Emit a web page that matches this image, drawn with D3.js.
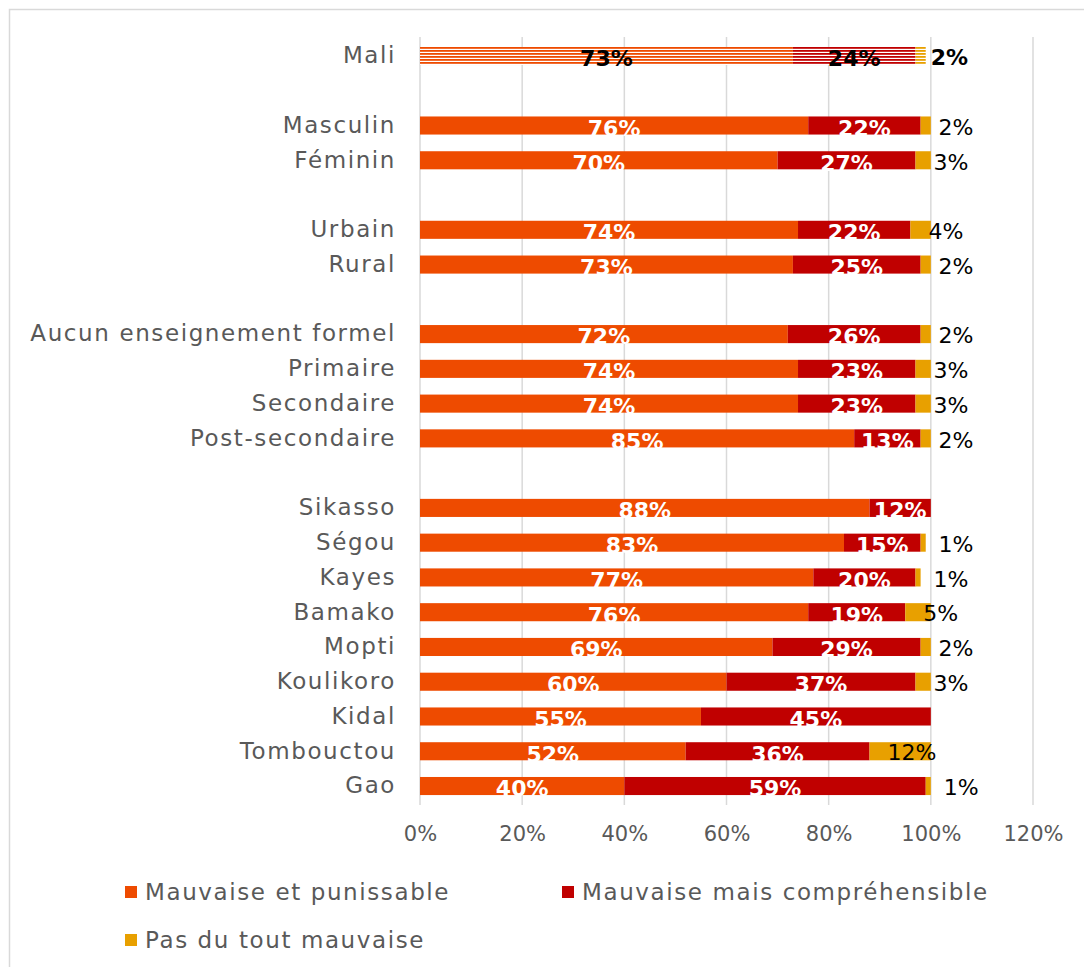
<!DOCTYPE html>
<html>
<head>
<meta charset="utf-8">
<script src="https://cdn.jsdelivr.net/npm/d3@7/dist/d3.min.js"></script>
<style>
  html, body { margin: 0; padding: 0; background: #fff; }
  svg { display: block; }
</style>
</head>
<body>
<script>
// Attitude towards the act, by sub-group (shares of respondents)
const categories = [
  "Mali", "",
  "Masculin", "Féminin", " ",
  "Urbain", "Rural", "  ",
  "Aucun enseignement formel", "Primaire", "Secondaire", "Post-secondaire", "   ",
  "Sikasso", "Ségou", "Kayes", "Bamako", "Mopti", "Koulikoro", "Kidal", "Tombouctou", "Gao"
];
const punissable = [73, null, 76, 70, null, 74, 73, null, 72, 74, 74, 85, null, 88, 83, 77, 76, 69, 60, 55, 52, 40];
const comprehensible = [24, null, 22, 27, null, 22, 25, null, 26, 23, 23, 13, null, 12, 15, 20, 19, 29, 37, 45, 36, 59];
const pasMauvaise = [2, null, 2, 3, null, 4, 2, null, 2, 3, 3, 2, null, 0, 1, 1, 5, 2, 3, 0, 12, 1];
const seriesNames = ["Mauvaise et punissable", "Mauvaise mais compréhensible", "Pas du tout mauvaise"];
const tickValues = [0, 20, 40, 60, 80, 100, 120];

const colors = ["#EE4B00", "#C00000", "#E8A000"];
const W = 1084, H = 967;
const font = "DejaVu Sans, sans-serif";

const svg = d3.select("body").append("svg").attr("width", W).attr("height", H);

// chart frame
svg.append("rect").attr("x", 9.5).attr("y", 9.5).attr("width", W + 20).attr("height", H + 20)
  .attr("fill", "#fff").attr("stroke", "#d9d9d9").attr("stroke-width", 1.5);

// striped fills for the national total row
const defs = svg.append("defs");
colors.forEach((c, i) => {
  const p = defs.append("pattern").attr("id", "stripe" + i)
    .attr("patternUnits", "userSpaceOnUse").attr("width", 8).attr("height", 3)
    .attr("y", 47);
  p.append("rect").attr("width", 8).attr("height", 3).attr("fill", "#fff");
  p.append("rect").attr("width", 8).attr("height", 1.8).attr("fill", c);
});

const x = d3.scaleLinear().domain([0, 120]).range([420, 1033]);
const y = d3.scaleBand().domain(categories).range([38.6, 803.4]).paddingInner(0.48).paddingOuter(0.24);

// vertical gridlines
svg.append("g").selectAll("line").data(tickValues).join("line")
  .attr("x1", d => x(d)).attr("x2", d => x(d))
  .attr("y1", 37).attr("y2", 805)
  .attr("stroke", "#d9d9d9").attr("stroke-width", 1.5);

// x axis tick labels
const xAxis = d3.axisBottom(x).tickValues(tickValues).tickFormat(d => d + "%").tickSize(0).tickPadding(0);
const gx = svg.append("g").attr("transform", "translate(0,826)").call(xAxis);
gx.select(".domain").remove();
gx.selectAll("text").attr("font-family", font).attr("font-size", 21).attr("fill", "#595959").attr("dy", "0.71em");

// category labels
const yAxis = d3.axisLeft(y).tickSize(0).tickPadding(0);
const gy = svg.append("g").attr("transform", "translate(396,0)").call(yAxis);
gy.select(".domain").remove();
gy.selectAll("text").attr("font-family", font).attr("font-size", 23)
  .attr("letter-spacing", 1.6).attr("fill", "#595959");

// stacked segments
const rows = categories.map((c, i) => ({ c, i, v: [punissable[i], comprehensible[i], pasMauvaise[i]] }))
  .filter(r => r.v[0] !== null);

const segs = [];
rows.forEach(r => {
  let acc = 0;
  r.v.forEach((v, k) => {
    segs.push({ c: r.c, k, v, x0: acc, x1: acc + v, total: r.i === 0 });
    acc += v;
  });
});

svg.append("g").selectAll("rect").data(segs.filter(s => s.v > 0)).join("rect")
  .attr("x", d => x(d.x0)).attr("width", d => x(d.x1) - x(d.x0))
  .attr("y", d => y(d.c)).attr("height", y.bandwidth())
  .attr("fill", d => d.total ? `url(#stripe${d.k})` : colors[d.k]);

// value labels
const lab = svg.append("g").attr("font-family", font);
lab.selectAll("text.in").data(segs.filter(s => s.k < 2 && s.v > 0)).join("text")
  .attr("class", "in")
  .attr("x", d => x((d.x0 + d.x1) / 2)).attr("y", d => y(d.c) + y.bandwidth() / 2)
  .attr("dy", "0.47em").attr("text-anchor", "middle")
  .attr("font-size", 22).attr("font-weight", "bold")
  .attr("fill", d => d.total ? "#000" : "#fff")
  .text(d => d.v + "%");

lab.selectAll("text.out").data(segs.filter(s => s.k === 2 && s.v > 0)).join("text")
  .attr("class", "out")
  .attr("x", d => d.total ? x(d.x1) + 5 : x(d.x0) + 18)
  .attr("y", d => y(d.c) + y.bandwidth() / 2)
  .attr("dy", "0.42em").attr("text-anchor", "start")
  .attr("font-size", 22).attr("font-weight", d => d.total ? "bold" : "normal")
  .attr("fill", "#000")
  .text(d => d.v + "%");

// legend
const legendPos = [[125, 892], [562, 892], [125, 940]];
const lg = svg.append("g").attr("font-family", font);
seriesNames.forEach((n, i) => {
  const [lx, ly] = legendPos[i];
  lg.append("rect").attr("x", lx).attr("y", ly - 6).attr("width", 12).attr("height", 12).attr("fill", colors[i]);
  lg.append("text").attr("x", lx + 20).attr("y", ly).attr("dy", "0.36em")
    .attr("font-size", 23).attr("letter-spacing", 1.6).attr("fill", "#595959").text(n);
});
</script>
</body>
</html>
